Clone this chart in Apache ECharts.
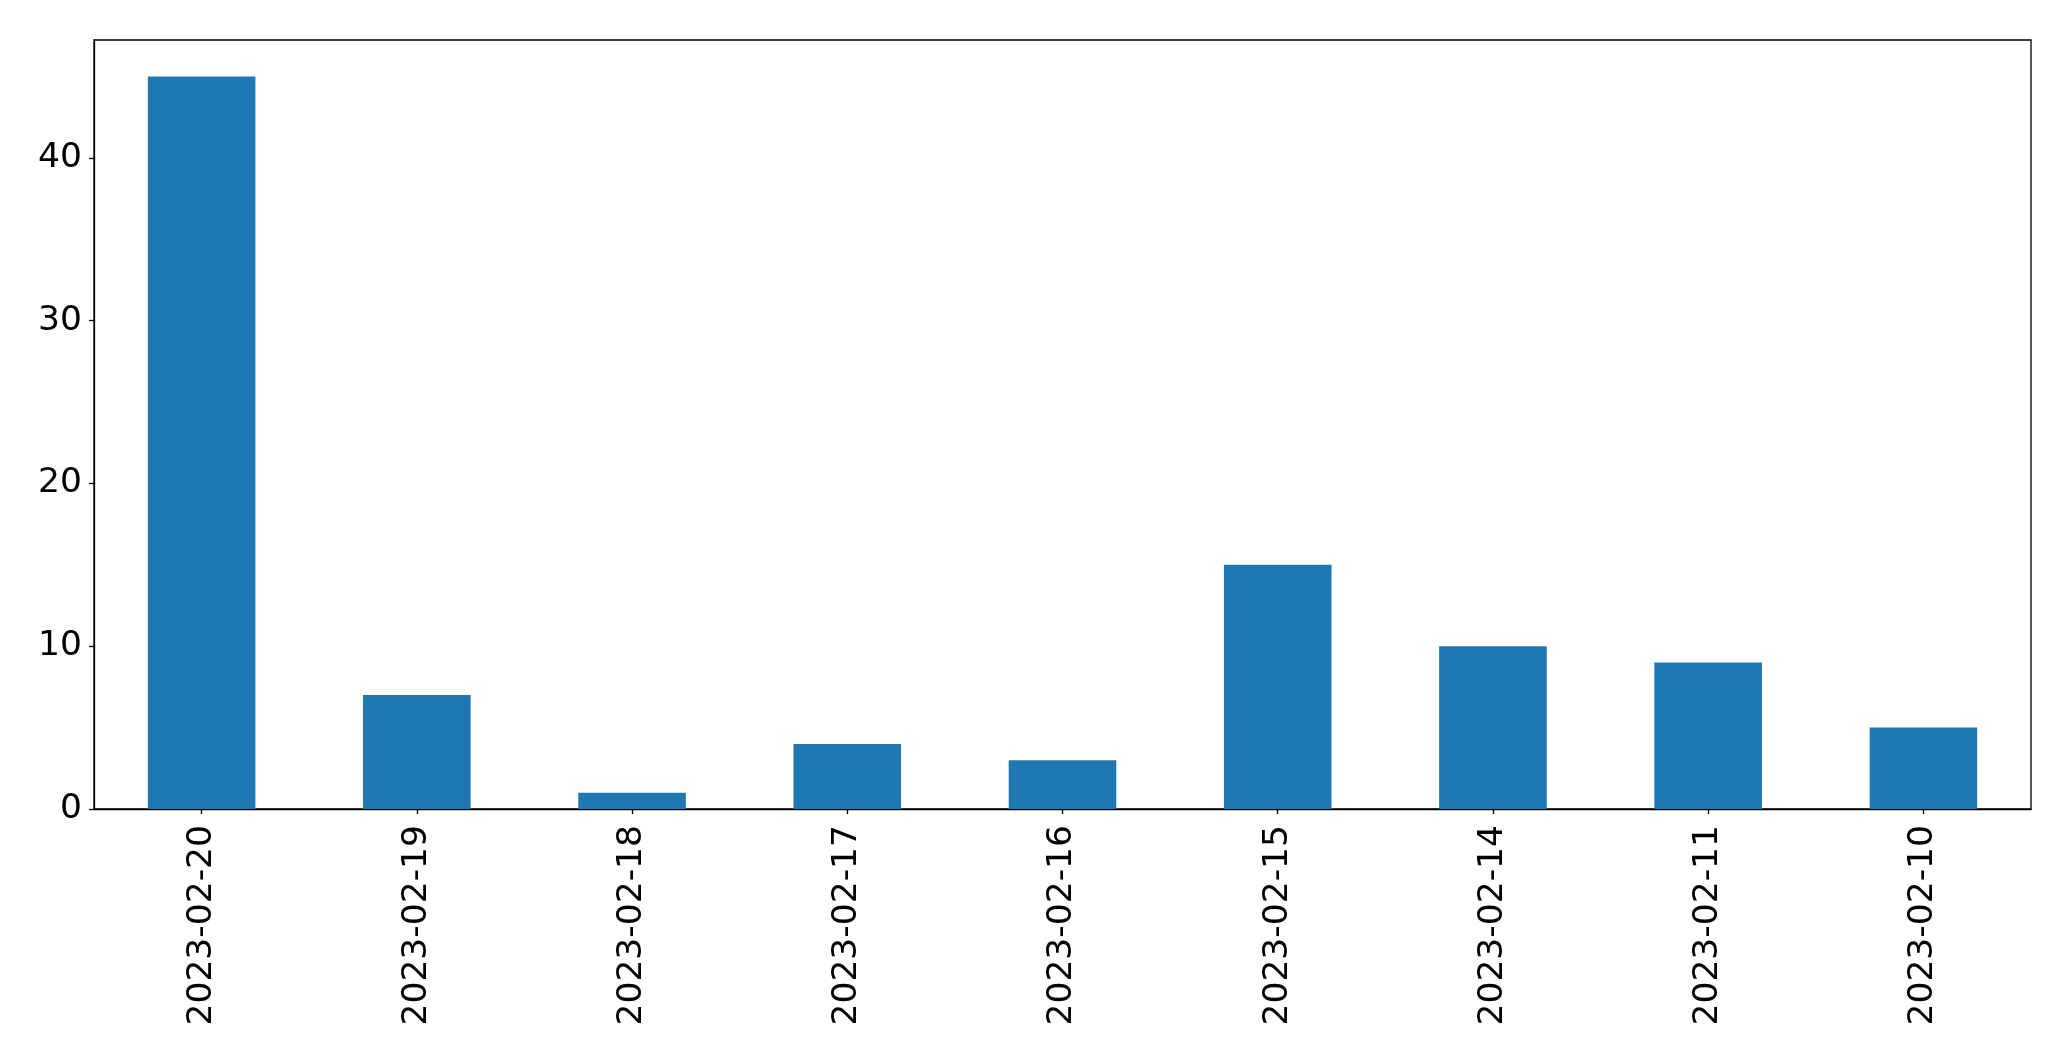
<!DOCTYPE html>
<html>
<head>
<meta charset="utf-8">
<script src="https://cdn.jsdelivr.net/npm/echarts@6/dist/echarts.min.js"></script>
<style>html,body{margin:0;padding:0;background:#fff;}#c{width:2071px;height:1061px;}</style>
</head>
<body>
<div id="c"></div>
<script>
const categories = ['2023-02-20','2023-02-19','2023-02-18','2023-02-17','2023-02-16','2023-02-15','2023-02-14','2023-02-11','2023-02-10'];
const values = [45, 7, 1, 4, 3, 15, 10, 9, 5];
const yTicks = [0, 10, 20, 30, 40];

const chart = echarts.init(document.getElementById('c'), null, {renderer: 'canvas'});
const font = 'DejaVu Sans';
chart.setOption({
  animation: false,
  backgroundColor: '#ffffff',
  grid: {left: 94, top: 40, right: 40, bottom: 252, show: true, borderColor: '#000', borderWidth: 1.3, backgroundColor: 'transparent'},
  xAxis: {
    type: 'category',
    data: categories,
    boundaryGap: true,
    axisLine: {show: true, lineStyle: {color: '#000', width: 1.3}},
    axisTick: {show: true, alignWithLabel: true, length: 5, lineStyle: {color: '#000', width: 1.3}},
    axisLabel: {rotate: 90, margin: 16, fontSize: 34.5, fontFamily: font, color: '#000', interval: 0}
  },
  yAxis: {
    type: 'value',
    min: 0,
    max: 47.25,
    interval: 10,
    splitLine: {show: false},
    axisLine: {show: true, lineStyle: {color: '#000', width: 1.3}},
    axisTick: {show: true, length: 5, customValues: yTicks, lineStyle: {color: '#000', width: 1.3}},
    axisLabel: {margin: 12, fontSize: 34.5, fontFamily: font, color: '#000', customValues: yTicks}
  },
  series: [{
    type: 'bar',
    data: values,
    barWidth: '50%',
    itemStyle: {color: '#1f77b4'}
  }]
});
</script>
</body>
</html>
